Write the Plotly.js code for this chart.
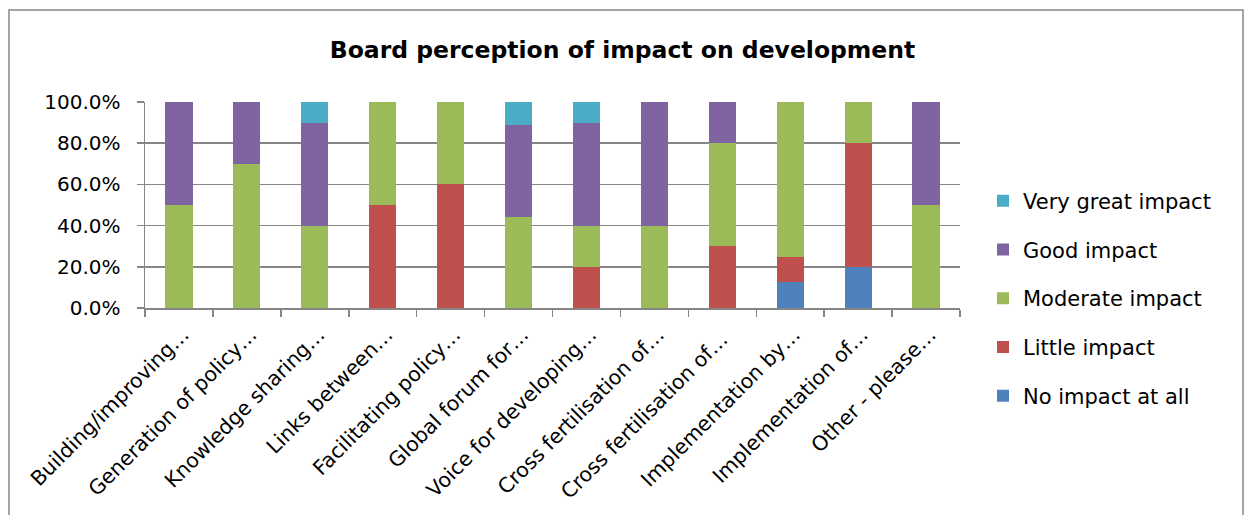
<!DOCTYPE html>
<html>
<head>
<meta charset="utf-8">
<script src="https://cdn.plot.ly/plotly-3.0.1.min.js"></script>
<style>
html,body{margin:0;padding:0;background:#fff;}
#chart{width:1245px;height:515px;}
</style>
</head>
<body>
<div id="chart"></div>
<script>
const categories = [
  "Building/improving…",
  "Generation of policy…",
  "Knowledge sharing…",
  "Links between…",
  "Facilitating policy…",
  "Global forum for…",
  "Voice for developing…",
  "Cross fertilisation of…",
  "Cross fertilisation of… ",
  "Implementation by…",
  "Implementation of…",
  "Other - please…"
];
const noImpact     = [0, 0, 0, 0, 0, 0, 0, 0, 0, 0.125, 0.20, 0];
const littleImpact = [0, 0, 0, 0.50, 0.60, 0, 0.20, 0, 0.30, 0.125, 0.60, 0];
const moderateImpact = [0.50, 0.70, 0.40, 0.50, 0.40, 0.444, 0.20, 0.40, 0.50, 0.75, 0.20, 0.50];
const goodImpact   = [0.50, 0.30, 0.50, 0, 0, 0.445, 0.50, 0.60, 0.20, 0, 0, 0.50];
const veryGreatImpact = [0, 0, 0.10, 0, 0, 0.111, 0.10, 0, 0, 0, 0, 0];

const seriesNames = ["No impact at all", "Little impact", "Moderate impact", "Good impact", "Very great impact"];
const seriesValues = [noImpact, littleImpact, moderateImpact, goodImpact, veryGreatImpact];
const seriesColors = ["#4F81BD", "#C0504D", "#9BBB59", "#8064A2", "#4BACC6"];

const FONT = "DejaVu Sans, Open Sans, sans-serif";

const traces = seriesNames.map((n, i) => ({
  type: "bar",
  name: n,
  x: categories,
  y: seriesValues[i],
  marker: {color: seriesColors[i], line: {width: 0}},
  legendgroup: "g" + i,
  legendrank: seriesNames.length - i,
  hoverinfo: "name+y"
}));

const L = 145, R = 960, T = 102, B = 308, W = 1245, H = 515;
const pw = R - L, ph = B - T;
const px2x = p => (p - L) / pw;
const py2y = p => (B - p) / ph;

const layout = {
  width: W, height: H,
  margin: {l: L, r: W - R, t: T, b: H - B, pad: 0},
  paper_bgcolor: "#ffffff",
  plot_bgcolor: "#ffffff",
  barmode: "stack",
  bargap: 0.6,
  font: {family: FONT, color: "#000000", size: 20},
  title: {
    text: "<b>Board perception of impact on development</b>",
    font: {family: FONT, size: 23.5, color: "#000000"},
    x: 0.5, xref: "container", xanchor: "center",
    y: 1 - 50 / H, yref: "container", yanchor: "middle"
  },
  xaxis: {
    type: "category",
    tickangle: -45,
    tickson: "boundaries",
    ticks: "outside",
    ticklen: 7,
    tickwidth: 1.5,
    tickcolor: "#868686",
    showline: true,
    linecolor: "#868686",
    linewidth: 1.5,
    showgrid: false,
    ticklabelstandoff: 5,
    ticklabelshift: 4,
    tickfont: {family: FONT, size: 20.5, color: "#000000"},
    fixedrange: true
  },
  yaxis: {
    range: [0, 1],
    tickvals: [0, 0.2, 0.4, 0.6, 0.8, 1.0],
    tickformat: ".1%",
    ticks: "outside",
    ticklen: 7,
    tickwidth: 1.5,
    tickcolor: "#868686",
    showline: true,
    linecolor: "#868686",
    linewidth: 1.5,
    showgrid: true,
    gridcolor: "#868686",
    gridwidth: 1.5,
    zeroline: false,
    ticklabelstandoff: 12,
    tickfont: {family: FONT, size: 20, color: "#000000"},
    fixedrange: true
  },
  showlegend: true,
  legend: {
    x: px2x(983), xanchor: "left",
    y: py2y(180.5), yanchor: "top",
    traceorder: "grouped",
    tracegroupgap: 18.5,
    maxheight: 400,
    font: {family: FONT, size: 21, color: "#000000"},
    bgcolor: "rgba(0,0,0,0)"
  },
  shapes: [{
    type: "rect", xref: "paper", yref: "paper",
    x0: px2x(9), x1: px2x(1243), y0: py2y(10), y1: py2y(530),
    line: {color: "#868686", width: 1.5}, fillcolor: "rgba(0,0,0,0)", layer: "below"
  }]
};

Plotly.newPlot("chart", traces, layout, {displayModeBar: false, staticPlot: true});
</script>
</body>
</html>
